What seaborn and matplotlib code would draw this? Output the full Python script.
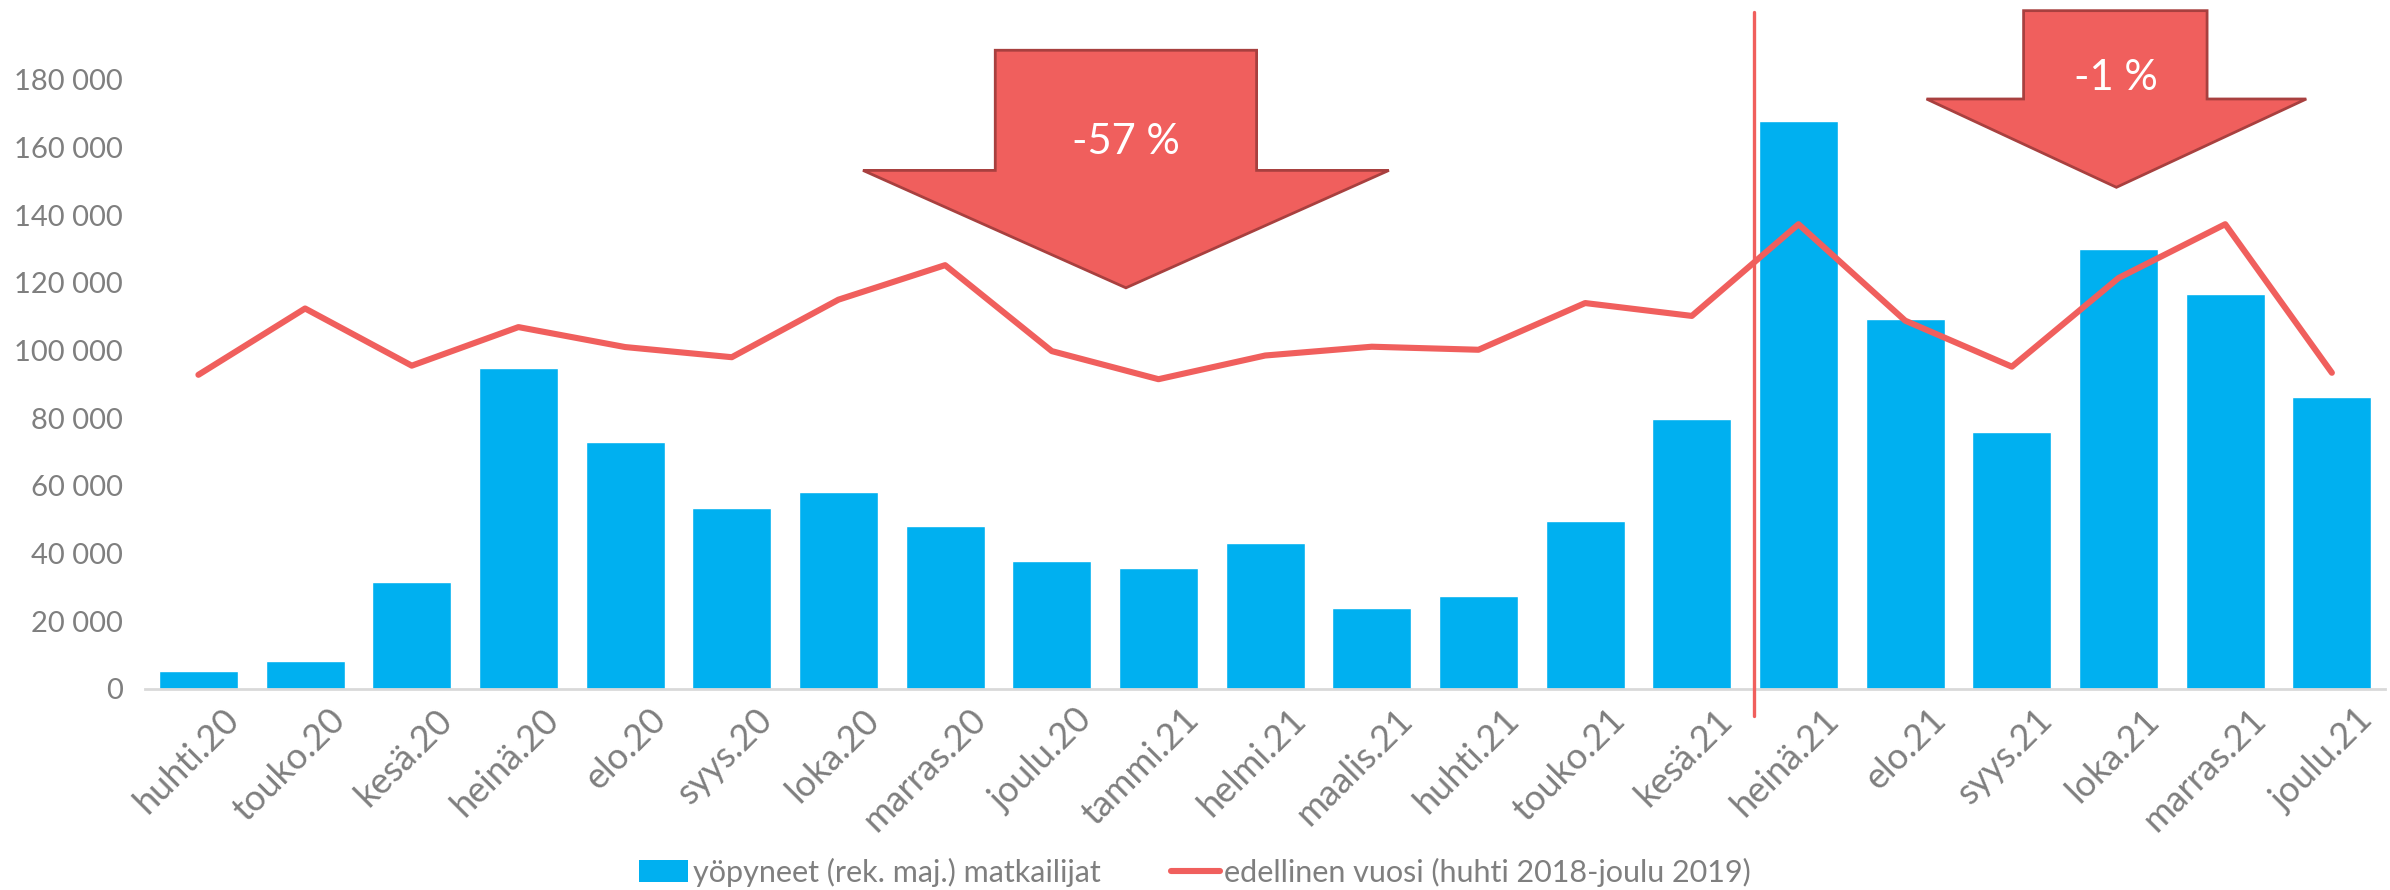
import matplotlib.pyplot as plt
import numpy as np
import pandas as pd
import seaborn as sns
from matplotlib.lines import Line2D
from matplotlib.patches import Patch, Polygon

months = [
    "huhti.20", "touko.20", "kesä.20", "heinä.20", "elo.20", "syys.20", "loka.20",
    "marras.20", "joulu.20", "tammi.21", "helmi.21", "maalis.21", "huhti.21",
    "touko.21", "kesä.21", "heinä.21", "elo.21", "syys.21", "loka.21",
    "marras.21", "joulu.21",
]
visitors = [
    5200, 8100, 31500, 94800, 73000, 53300, 58100, 48200, 37900, 35600, 43200,
    23800, 27500, 49500, 79800, 167800, 109300, 75800, 130000, 116800, 86200,
]
previous_year = [
    92800, 112400, 95500, 106900, 101000, 98000, 115000, 125200, 99800, 91500,
    98500, 101100, 100200, 114000, 110200, 137300, 108800, 95200, 121400,
    137300, 93400,
]
arrow_labels = ["-57 %", "-1 %"]

BAR_BLUE = "#00B0F0"
LINE_RED = "#F05F5D"
ARROW_EDGE = "#A8403F"
GREY = "#7F7F7F"

df = pd.DataFrame({"kk": months, "yopyneet": visitors, "edellinen": previous_year})
x = np.arange(len(months))

sns.set_style("white")
plt.rcParams["font.family"] = ["Lato", "DejaVu Sans"]

fig = plt.figure(figsize=(23.9, 8.9), dpi=100)
ax = fig.add_axes([0.0607, 0.226, 0.9373, 0.7605])

sns.barplot(data=df, x="kk", y="yopyneet", color=BAR_BLUE, width=0.74,
            saturation=1, ax=ax, zorder=2)
sns.lineplot(x=x, y=df["edellinen"], color=LINE_RED, linewidth=4.4, ax=ax,
             zorder=3)

ax.set_xlim(-0.5, len(months) - 0.5)
ax.set_ylim(0, 200000)
ax.set_yticks(np.arange(0, 180001, 20000))
ax.set_yticklabels([f"{v:,}".replace(",", " ") for v in range(0, 180001, 20000)])
ax.set_xlabel("")
ax.set_ylabel("")
ax.tick_params(axis="y", labelsize=21, labelcolor=GREY, length=0, pad=16)
# labels sit a bit right of the bar centres, like in the original
ax.set_xticks(x + 0.22, months)
ax.tick_params(axis="x", labelsize=26, labelcolor=GREY, length=0, pad=10)
plt.setp(ax.get_xticklabels(), rotation=45, ha="right", rotation_mode="anchor")

for side in ["top", "right", "left"]:
    ax.spines[side].set_visible(False)
ax.spines["bottom"].set_color("#D9D9D9")
ax.spines["bottom"].set_linewidth(2)

# divider between the two periods
divider_x = 14.58
ax.plot([divider_x, divider_x], [-8000, 200000], color=LINE_RED, linewidth=2.4,
        clip_on=False, zorder=4)


def down_arrow(ax, left, right, head_left, head_right, top, base, tip, text, text_y):
    mid = (head_left + head_right) / 2
    pts = [(left, top), (right, top), (right, base), (head_right, base),
           (mid, tip), (head_left, base), (left, base)]
    ax.add_patch(Polygon(pts, closed=True, facecolor="#F05F5D",
                         edgecolor=ARROW_EDGE, linewidth=2, clip_on=False,
                         zorder=5))
    ax.text(mid, text_y, text, color="white", fontsize=30, ha="center",
            va="center", zorder=6)


down_arrow(ax, 7.47, 9.92, 6.23, 11.16, 188700, 153200, 118500,
           arrow_labels[0], 161700)
down_arrow(ax, 17.11, 18.83, 16.20, 19.76, 200400, 174300, 148200,
           arrow_labels[1], 180500)

handles = [
    Patch(facecolor=BAR_BLUE, edgecolor="none"),
    Line2D([0], [0], color=LINE_RED, linewidth=4.4),
]
fig.legend(handles, ["yöpyneet (rek. maj.) matkailijat",
                     "edellinen vuosi (huhti 2018-joulu 2019)"],
           loc="center", bbox_to_anchor=(0.5, 0.02), ncol=2, frameon=False,
           fontsize=22, labelcolor=GREY, handlelength=1.6, handletextpad=0.15,
           columnspacing=2.3)

fig.savefig("out.png", dpi=100)
